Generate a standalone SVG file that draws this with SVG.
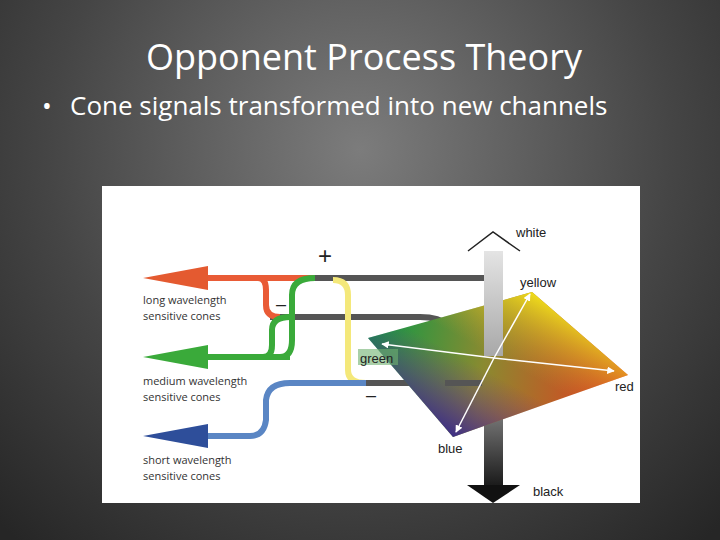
<svg xmlns="http://www.w3.org/2000/svg" width="720" height="540" viewBox="0 0 720 540">
<defs>
<radialGradient id="bg" cx="360" cy="150" r="520" gradientUnits="userSpaceOnUse">
<stop offset="0" stop-color="#7c7c7c"/><stop offset="0.6" stop-color="#454545"/><stop offset="1" stop-color="#262626"/>
</radialGradient>
<linearGradient id="gr" x1="368" y1="338" x2="628" y2="375" gradientUnits="userSpaceOnUse">
<stop offset="0" stop-color="#089a48"/><stop offset="0.45" stop-color="#8a8a30"/><stop offset="1" stop-color="#e8381f"/>
</linearGradient>
<linearGradient id="yb" x1="532" y1="292" x2="453" y2="437" gradientUnits="userSpaceOnUse">
<stop offset="0" stop-color="#f4e21a" stop-opacity="0.95"/><stop offset="0.45" stop-color="#c0a030" stop-opacity="0"/><stop offset="0.55" stop-color="#7a2a8a" stop-opacity="0"/><stop offset="1" stop-color="#3a2a8a" stop-opacity="0.95"/>
</linearGradient>
<linearGradient id="up" x1="0" y1="251" x2="0" y2="356" gradientUnits="userSpaceOnUse">
<stop offset="0" stop-color="#e4e4e4"/><stop offset="1" stop-color="#a8a8a8"/>
</linearGradient>
<linearGradient id="dn" x1="0" y1="400" x2="0" y2="490" gradientUnits="userSpaceOnUse">
<stop offset="0" stop-color="#8a8a8a"/><stop offset="1" stop-color="#151515"/>
</linearGradient>
<marker id="wa" viewBox="0 0 10 10" refX="9" refY="5" markerWidth="5" markerHeight="5" orient="auto-start-reverse"><path d="M0,0 L10,5 L0,10 z" fill="#fff"/></marker>
</defs>
<style>
.t{font-family:"Open Sans","Liberation Sans",sans-serif;fill:#333;font-size:11px}
.c{font-family:"Liberation Sans",sans-serif;fill:#222;font-size:13px}
.h{font-family:"Open Sans","Liberation Sans",sans-serif;fill:#fff}
.ln{fill:none;stroke-width:6;stroke-linecap:butt}
</style>
<rect width="720" height="540" fill="url(#bg)"/>
<text class="h" x="364" y="70" font-size="36" text-anchor="middle">Opponent Process Theory</text>
<text class="h" x="42" y="115" font-size="26">•</text>
<text class="h" x="70" y="115" font-size="26">Cone signals transformed into new channels</text>
<rect x="102" y="186" width="538" height="317" fill="#fff"/>
<g id="connectors">
<path class="ln" stroke="#555" d="M315,278 H484"/>
<path class="ln" stroke="#555" d="M270,317 H420 Q458,317 460,352"/>
<path class="ln" stroke="#555" d="M366,383 H482"/>
<path class="ln" stroke="#e95b36" d="M205,278 H315"/>
<path class="ln" stroke="#e95b36" d="M258,278 Q266,278 266,290 V305 Q266,317 280,317"/>
<path class="ln" stroke="#3aaa3a" d="M205,357 H290"/>
<path class="ln" stroke="#3aaa3a" d="M263,357 Q272,357 272,345 V330 Q272,317 290,317"/>
<path class="ln" stroke="#3aaa3a" d="M280,357 Q292,357 292,340 V295 Q292,278 315,278"/>
<path class="ln" stroke="#f4e87a" d="M333,280 Q348,280 348,295 V370 Q348,383 366,383"/>
<path class="ln" stroke="#5a86c4" d="M205,436 H250 Q264,436 266,420 V400 Q268,383 290,383 H366"/>
<path d="M143,278 L208,266 V290 z" fill="#e45a30"/>
<path d="M143,357 L208,345 V369 z" fill="#3aaa3a"/>
<path d="M143,436 L208,424 V448 z" fill="#2e4e9a"/>
</g>
<g id="axis">
<rect x="484" y="395" width="19" height="92" fill="url(#dn)"/>
<path d="M467,485 H520 L493,503 z" fill="#111"/>
</g>
<g id="diamond">
<path d="M368,338 L532,292 L628,375 L453,437 z" fill="url(#gr)"/>
<path d="M368,338 L532,292 L628,375 L453,437 z" fill="url(#yb)"/>
<path class="ln" stroke="#555" d="M445,383 H482"/>
<rect x="484" y="251" width="19" height="105" fill="url(#up)"/>
<path d="M494,358 L382,344" stroke="#fff" stroke-width="1.5" marker-end="url(#wa)"/>
<path d="M494,358 L614,371" stroke="#fff" stroke-width="1.5" marker-end="url(#wa)"/>
<path d="M494,358 L530,294" stroke="#fff" stroke-width="1.5" marker-end="url(#wa)"/>
<path d="M494,358 L456,432" stroke="#fff" stroke-width="1.5" marker-end="url(#wa)"/>
<rect x="358" y="349" width="40" height="16" fill="#6fb070" opacity="0.6"/>
</g>
<path d="M468,251 L493,232 L520,251" fill="none" stroke="#222" stroke-width="1.5"/>
<g id="labels">
<text class="c" x="516" y="237">white</text>
<text class="c" x="520" y="287">yellow</text>
<text class="c" x="360" y="363">green</text>
<text class="c" x="615" y="391">red</text>
<text class="c" x="438" y="453">blue</text>
<text class="c" x="533" y="496">black</text>
<text class="t" x="143" y="304">long wavelength</text>
<text class="t" x="143" y="320">sensitive cones</text>
<text class="t" x="143" y="385">medium wavelength</text>
<text class="t" x="143" y="401">sensitive cones</text>
<text class="t" x="143" y="464">short wavelength</text>
<text class="t" x="143" y="480">sensitive cones</text>
<text x="325" y="264" font-family="Liberation Sans,sans-serif" font-size="24" fill="#222" text-anchor="middle">+</text>
<text x="281" y="310" font-family="Liberation Sans,sans-serif" font-size="18" fill="#222" text-anchor="middle">–</text>
<text x="371" y="401" font-family="Liberation Sans,sans-serif" font-size="18" fill="#222" text-anchor="middle">–</text>
</g>
</svg>
